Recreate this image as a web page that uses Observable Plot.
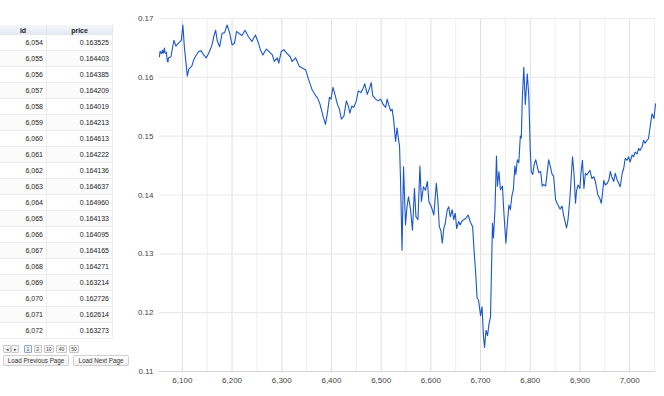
<!DOCTYPE html>
<html>
<head>
<meta charset="utf-8">
<script src="https://cdn.jsdelivr.net/npm/d3@7"></script>
<script src="https://cdn.jsdelivr.net/npm/@observablehq/plot@0.6"></script>
<style>
  html, body { margin: 0; padding: 0; background: #fff; }
  body { width: 664px; height: 396px; position: relative; overflow: hidden; font-family: "Liberation Sans", Arial, sans-serif; }
  #tbl { position: absolute; left: 0; top: 25px; width: 113px; border-collapse: collapse; font-size: 7px; color: #222; }
  #tbl th { height: 10px; padding: 0; font-weight: bold; background: linear-gradient(#f4f6fa, #e3e8f1); border-right: 1px solid #e6e6e6; text-align: center; }
  #tbl td { height: 15px; padding: 0 3px 0 0; text-align: right; border-bottom: 1px solid #eeeeee; border-right: 1px solid #eeeeee; }
  #tbl tr:nth-child(even) td { background: #fbfbfb; }
  #pager { position: absolute; left: 3px; top: 345px; font-size: 5px; display: flex; gap: 2px; }
  #pager span { border: 1px solid #c8c8c8; border-radius: 1px; padding: 0 1.5px; line-height: 6px; background: #f4f4f4; color: #444; }
  #pager span.arrow { margin-right: -2px; }
  #pager span.cur { border-color: #8aa4d6; background: #eef3fd; margin-left: 3px; }
  .btn { position: absolute; top: 355px; height: 9px; font-size: 6.3px; line-height: 9px; text-align: center; border: 1px solid #d0d0d0; border-radius: 2px; background: linear-gradient(#fff, #f1f1f1); color: #333; }
  #chart { position: absolute; left: 113px; top: 0; }
</style>
</head>
<body>
<table id="tbl"><thead><tr><th style="width:46px">id</th><th>price</th></tr></thead><tbody></tbody></table>
<div id="pager"></div>
<div class="btn" style="left:3px;width:64px;">Load Previous Page</div>
<div class="btn" style="left:73px;width:54px;">Load Next Page</div>
<div id="chart"></div>
<script>
// ---- data ----
const ids = [
  6054,6055,6056,6057,6058,6059,6060,6061,6062,6063,6064,6065,6066,6067,6068,6069,6070,6071,6072,
  6077,6083,6087,6092,6098,6101,6104,6110,6113,6119,6123,6128,6133,6138,6143,6148,6153,6159,6164,6167,6170,
  6175,6180,6185,6190,6195,6200,6205,6209,6215,6220,6226,6233,6240,6247,6252,6257,6262,6269,6274,6281,
  6285,6291,6294,6299,6304,6310,6317,6321,6328,6335,6341,6348,6354,6361,6368,6372,6377,6383,6388,6392,
  6396,6399,6403,6407,6412,6416,6420,6425,6430,6434,6437,6441,6445,6450,6454,6459,6463,6467,6472,6476,
  6480,6483,6489,6494,6499,6504,6509,6512,6515,6519,6522,6525,6529,6532,6535,6537,6539,6542,6545,6549,
  6552,6555,6559,6563,6567,6570,6574,6578,6581,6585,6589,6593,6596,6601,6606,6611,6614,6617,6620,6623,
  6626,6629,6633,6636,6639,6643,6646,6649,6652,6656,6659,6662,6666,6670,6675,6679,6684,6687,6690,6693,
  6696,6700,6703,6706,6708,6711,6714,6717,6720,6724,6726,6729,6732,6734,6737,6740,6744,6747,6751,6754,
  6757,6760,6763,6766,6769,6771,6774,6777,6780,6782,6784,6787,6790,6792,6794,6797,6800,6802,6805,6808,
  6811,6814,6817,6821,6824,6827,6831,6834,6837,6841,6844,6847,6851,6854,6857,6860,6864,6867,6873,6876,
  6880,6885,6888,6891,6893,6896,6900,6902,6905,6908,6911,6914,6920,6924,6928,6931,6936,6940,6943,6945,
  6948,6951,6955,6958,6961,6964,6968,6971,6975,6978,6981,6985,6988,6991,6995,6998,7001,7005,7008,7011,
  7015,7018,7021,7025,7028,7031,7035,7038,7042,7045,7049,7052
];
const prices = [
  0.163525,0.164403,0.164385,0.164209,0.164019,0.164213,0.164613,0.164222,0.164136,0.164637,0.164960,0.164133,0.164095,0.164165,0.164271,0.163214,0.162726,0.162614,0.163273,
  0.1635,0.1663,0.1653,0.1658,0.1663,0.1689,0.1652,0.1602,0.1614,0.1619,0.1630,0.1638,0.1644,0.1645,0.1638,0.1633,0.1641,0.1653,0.1672,0.1680,0.1663,
  0.1652,0.1675,0.1676,0.1689,0.1676,0.1655,0.1658,0.1678,0.1674,0.1671,0.1680,0.1669,0.1661,0.1672,0.1661,0.1647,0.1638,0.1648,0.1644,0.1638,
  0.1627,0.1633,0.1624,0.1644,0.1647,0.1641,0.1635,0.1627,0.1633,0.1619,0.1616,0.1613,0.1596,0.1579,0.1569,0.1565,0.1554,0.1534,0.1520,0.1540,
  0.1566,0.1563,0.1583,0.1571,0.1554,0.1546,0.1529,0.1534,0.1560,0.1551,0.1539,0.1551,0.1549,0.1560,0.1577,0.1574,0.1580,0.1589,0.1571,0.1580,
  0.1591,0.1569,0.1563,0.1560,0.1563,0.1554,0.1549,0.1563,0.1554,0.1543,0.1546,0.1529,0.1491,0.1514,0.1494,0.1483,0.1425,0.1306,0.1448,0.1349,
  0.1380,0.1397,0.1376,0.1340,0.1411,0.1363,0.1358,0.1449,0.1389,0.1414,0.1408,0.1423,0.1389,0.1380,0.1366,0.1420,0.1392,0.1346,0.1340,0.1318,
  0.1343,0.1352,0.1375,0.1380,0.1363,0.1375,0.1358,0.1369,0.1343,0.1355,0.1349,0.1355,0.1358,0.1360,0.1366,0.1355,0.1346,0.1305,0.1270,0.1225,
  0.1221,0.1195,0.1210,0.1158,0.1141,0.1170,0.1161,0.1181,0.1193,0.1352,0.1327,0.1375,0.1466,0.1415,0.1440,0.1409,0.1415,0.1369,0.1318,0.1352,
  0.1383,0.1375,0.1398,0.1409,0.1449,0.1435,0.1460,0.1455,0.1500,0.1497,0.1563,0.1617,0.1554,0.1580,0.1606,0.1569,0.1477,0.1440,0.1435,0.1452,
  0.1460,0.1449,0.1438,0.1440,0.1415,0.1418,0.1415,0.1438,0.1460,0.1446,0.1435,0.1432,0.1392,0.1386,0.1381,0.1376,0.1381,0.1366,0.1344,0.1358,
  0.1397,0.1465,0.1437,0.1386,0.1406,0.1417,0.1411,0.1437,0.1459,0.1411,0.1437,0.1434,0.1442,0.1428,0.1431,0.1423,0.1400,0.1394,0.1386,0.1400,
  0.1425,0.1417,0.1420,0.1425,0.1440,0.1431,0.1423,0.1437,0.1425,0.1420,0.1414,0.1437,0.1445,0.1462,0.1459,0.1465,0.1456,0.1468,0.1465,0.1473,
  0.1470,0.1479,0.1476,0.1482,0.1493,0.1488,0.1493,0.1496,0.1521,0.1538,0.1530,0.1555
];
const tableRows = 19;
const pageLabels = ["1", "2", "10", "40", "50"];
const xTicks = [6100, 6200, 6300, 6400, 6500, 6600, 6700, 6800, 6900, 7000];
const xMinor = [6150, 6250, 6350, 6450, 6550, 6650, 6750, 6850, 6950, 7050];
const yTicks = [0.11, 0.12, 0.13, 0.14, 0.15, 0.16, 0.17];

// ---- table ----
const fmtId = d3.format(",");
const tbody = document.querySelector("#tbl tbody");
for (let i = 0; i < tableRows; i++) {
  const tr = document.createElement("tr");
  tr.innerHTML = `<td>${fmtId(ids[i])}</td><td>${prices[i].toFixed(6)}</td>`;
  tbody.appendChild(tr);
}
const pager = document.getElementById("pager");
pager.innerHTML = `<span class="arrow">◂</span><span>▸</span>` +
  pageLabels.map((p, i) => `<span class="${i === 0 ? "cur" : ""}">${p}</span>`).join("");

// ---- chart ----
const data = ids.map((id, i) => ({id, price: prices[i]}));
const chart = Plot.plot({
  width: 551,
  height: 396,
  marginLeft: 46,
  marginRight: 9,
  marginTop: 18,
  marginBottom: 25,
  style: {fontFamily: "'Liberation Sans', Arial, sans-serif", fontSize: "8px", color: "#444", background: "transparent"},
  x: {domain: [6054, 7052]},
  y: {domain: [0.11, 0.17]},
  marks: [
    Plot.ruleX(xMinor, {stroke: "#efefef", strokeWidth: 1}),
    Plot.ruleX(xTicks, {stroke: "#dedede", strokeWidth: 1}),
    Plot.ruleY(yTicks, {stroke: "#ebebeb", strokeWidth: 1.2}),
    Plot.ruleY([0.11], {stroke: "#d4d4d4", strokeWidth: 1}),
    Plot.axisX(xTicks, {tickSize: 0, tickPadding: 6, tickFormat: d3.format(","), label: null, fill: "#444"}),
    Plot.axisY(yTicks, {tickSize: 0, tickPadding: 6, tickFormat: d => d.toFixed(2), label: null, fill: "#444"}),
    Plot.lineY(data, {x: "id", y: "price", stroke: "#1a56cc", strokeWidth: 1.1})
  ]
});
document.getElementById("chart").appendChild(chart);
</script>
</body>
</html>
